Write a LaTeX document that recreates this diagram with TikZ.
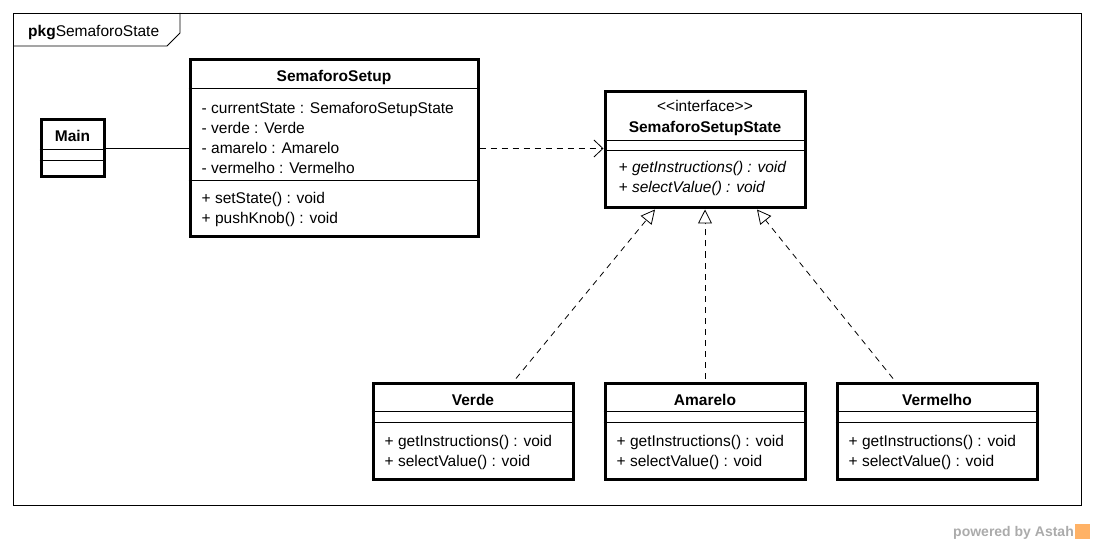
\documentclass[tikz,border=0pt]{standalone}
\usepackage{fontspec}
\setmainfont{Liberation Sans}
\usetikzlibrary{arrows.meta,calc,positioning}

\tikzset{
  umlbox/.style={rectangle, draw, line width=3pt, fill=white, minimum width=200pt, minimum height=96pt, inner sep=0pt},
  thin/.style={line width=0.8pt},
  txt/.style={inner sep=0pt, font=\fontsize{15.5}{20}\selectfont},
  bold/.style={txt, font=\bfseries\fontsize{15.5}{20}\selectfont},
  depend/.style={thin, dash pattern=on 6pt off 5pt, -{Straight Barb[length=9pt,width=17pt]}},
  realize/.style={thin, dash pattern=on 6pt off 5pt, -{Triangle[open,length=14pt,width=14pt,fill=white]}},
}

\begin{document}
\begin{tikzpicture}[x=1pt,y=-1pt]
    \useasboundingbox (0,0) rectangle (1094,545);
    % package frame
    \draw[thin] (13,13) rectangle (1081,505);
    \draw[thin] (13,46) -- (167,46) -- (180,33) -- (180,13);
    \node(pkg) [txt, anchor=base west] at (28,36.5) {\textbf{pkg}SemaforoState};

    % classes
    \node(main) [umlbox, minimum width=63pt, minimum height=57pt] at (72.5,148.5) {};
    \node(setup) [umlbox, minimum width=288pt, minimum height=177pt] at (334,148.5) {};
    \node(iface) [umlbox, minimum height=116pt] at (705,150) {};
    \node(amarelo) [umlbox] at (705,431) {};
    \node(verde) [umlbox, left=29pt of amarelo] {};
    \node(vermelho) [umlbox, right=29pt of amarelo] {};

    % Main
    \draw[thin] ($(main.north west)+(0,31)$) -- ($(main.north east)+(0,31)$);
    \draw[thin] ($(main.north west)+(0,42)$) -- ($(main.north east)+(0,42)$);
    \node(mainname) [bold, anchor=base] at ($(main.north)+(0,23.5)$) {Main};

    % SemaforoSetup
    \draw[thin] ($(setup.north west)+(0,30)$) -- ($(setup.north east)+(0,30)$);
    \draw[thin] ($(setup.north west)+(0,122)$) -- ($(setup.north east)+(0,122)$);
    \node(setupname) [bold, anchor=base] at ($(setup.north)+(0,23.5)$) {SemaforoSetup};
    \node(attr1) [txt, anchor=base west] at ($(setup.north west)+(13,55.5)$) {- currentState : SemaforoSetupState};
    \node(attr2) [txt, anchor=base west] at ($(setup.north west)+(13,75.5)$) {- verde : Verde};
    \node(attr3) [txt, anchor=base west] at ($(setup.north west)+(13,95.5)$) {- amarelo : Amarelo};
    \node(attr4) [txt, anchor=base west] at ($(setup.north west)+(13,115.5)$) {- vermelho : Vermelho};
    \node(op1) [txt, anchor=base west] at ($(setup.north west)+(13,145.5)$) {+ setState() : void};
    \node(op2) [txt, anchor=base west] at ($(setup.north west)+(13,165.5)$) {+ pushKnob() : void};

    % SemaforoSetupState
    \draw[thin] ($(iface.north west)+(0,50)$) -- ($(iface.north east)+(0,50)$);
    \draw[thin] ($(iface.north west)+(0,60)$) -- ($(iface.north east)+(0,60)$);
    \node(stereo) [txt, anchor=base] at ($(iface.north)+(0,21.5)$) {<{}<interface>{}>};
    \node(ifacename) [bold, anchor=base] at ($(iface.north)+(0,42.5)$) {SemaforoSetupState};
    \node(iop1) [txt, anchor=base west, font=\itshape\fontsize{15.5}{20}\selectfont] at ($(iface.north west)+(15,82.5)$) {+ getInstructions() : void};
    \node(iop2) [txt, anchor=base west, font=\itshape\fontsize{15.5}{20}\selectfont] at ($(iface.north west)+(15,102.5)$) {+ selectValue() : void};

    % concrete states
    \foreach \b/\n in {verde/Verde, amarelo/Amarelo, vermelho/Vermelho} {
      \draw[thin] ($(\b.north west)+(0,30)$) -- ($(\b.north east)+(0,30)$);
      \draw[thin] ($(\b.north west)+(0,41)$) -- ($(\b.north east)+(0,41)$);
      \node(\b name) [bold, anchor=base] at ($(\b.north)+(0,23.5)$) {\n};
      \node(\b op1) [txt, anchor=base west] at ($(\b.north west)+(13,65)$) {+ getInstructions() : void};
      \node(\b op2) [txt, anchor=base west] at ($(\b.north west)+(13,85)$) {+ selectValue() : void};
    }

    % connectors
    \draw[thin] (main.east) -- (setup.west |- main.east);
    \draw[depend] (setup.east) -- (setup.east -| iface.west);
    \draw[realize] ($(verde.north)+(43,-3)$) -- ($(iface.south)+(-50,0)$);
    \draw[realize] ($(amarelo.north)+(0,-3)$) -- (iface.south);
    \draw[realize] ($(vermelho.north)+(-44,-3)$) -- ($(iface.south)+(52,0)$);

    % watermark
    \node(astah) [anchor=base east, inner sep=0pt, text=black!33, font=\bfseries\fontsize{14}{16}\selectfont] at (1074,536) {powered by Astah};
    \node(logo) [anchor=west, inner sep=0pt, fill=orange!60, minimum size=15pt] at (1075,531) {};
\end{tikzpicture}
\end{document}
